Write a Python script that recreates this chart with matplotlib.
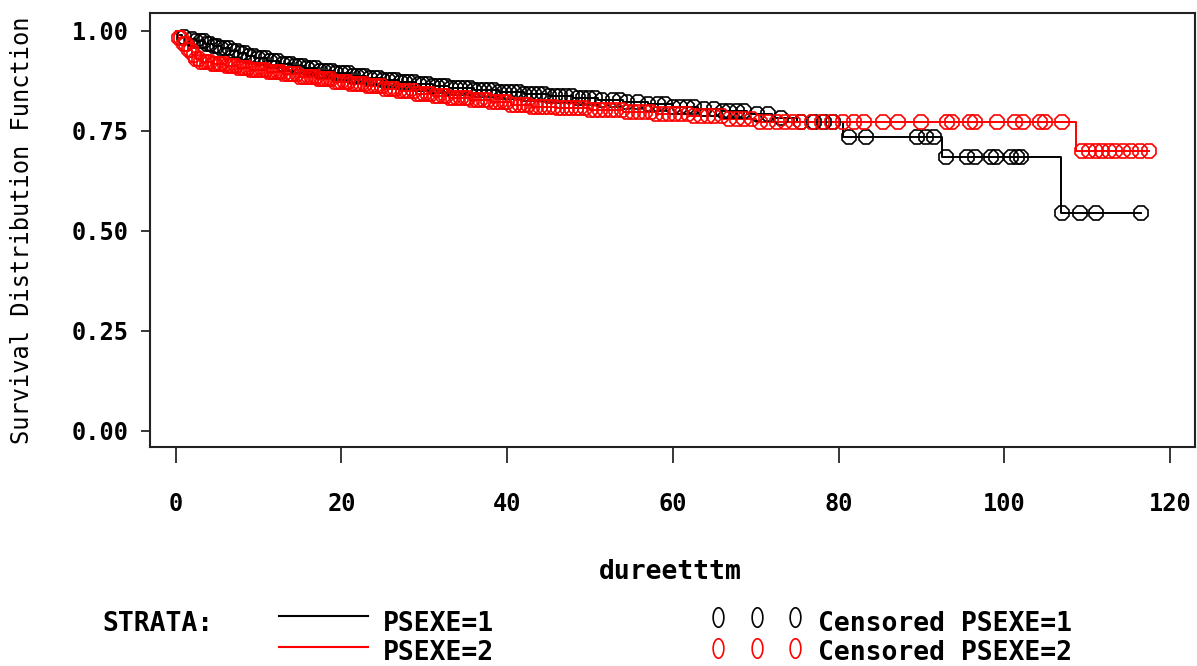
import numpy as np
import matplotlib
matplotlib.use("Agg")
import matplotlib.pyplot as plt
from matplotlib.lines import Line2D
from matplotlib.path import Path

# ---------------- data ----------------
# Kaplan-Meier step curve, stratum PSEXE=1 (event times, survival after event)
times_1 = [0.3, 0.8, 1.5, 2.5, 3.5, 4.5, 5.5, 6.5, 7.5, 8.5, 9.5, 11, 12.5, 14, 15.5, 17, 19,
           21, 23, 25, 27, 29, 31, 33, 36, 39, 42, 45, 48, 51, 54, 57, 60, 63, 66, 69,
           72, 75, 80.5, 92.5, 106.8]
surv_1 = [0.990, 0.984, 0.979, 0.974, 0.968, 0.962, 0.956, 0.950, 0.944, 0.938, 0.932, 0.925,
          0.918, 0.912, 0.906, 0.900, 0.894, 0.888, 0.882, 0.877, 0.872, 0.867, 0.862,
          0.857, 0.852, 0.847, 0.843, 0.838, 0.833, 0.828, 0.822, 0.816, 0.810, 0.805,
          0.800, 0.792, 0.783, 0.772, 0.735, 0.6835, 0.545]
cens_1 = [1.0, 2.0, 2.5, 3.0, 3.4, 3.8, 4.2, 4.6, 5.0, 5.5, 6.0, 6.4, 6.9, 7.4, 7.9, 8.4,
          8.9, 9.4, 9.9, 10.4, 10.9, 11.4, 11.9, 12.4, 12.9, 13.4, 13.9, 14.4, 14.9, 15.4,
          15.9, 16.4, 16.9, 17.4, 17.9, 18.4, 18.9, 19.4, 19.9, 20.4, 20.9, 21.4, 21.9,
          22.4, 22.9, 23.4, 24.0, 24.5, 25.0, 25.6, 26.1, 26.6, 27.2, 27.7, 28.2, 28.8,
          29.3, 29.9, 30.4, 31.0, 31.5, 32.1, 32.6, 33.2, 33.8, 34.3, 34.9, 35.5, 36.0,
          36.6, 37.2, 37.8, 38.4, 39.0, 39.6, 40.2, 40.8, 41.4, 42.0, 42.6, 43.2, 43.9,
          44.5, 45.1, 45.8, 46.4, 47.1, 47.8, 48.5, 49.2, 49.9, 50.6, 51.5, 52.8, 53.6,
          54.5, 55.8, 57.0, 58.2, 59.0, 60.0, 60.8, 61.7, 62.6, 63.8, 65.0, 66.0, 66.8,
          67.7, 68.6, 70.2, 71.5, 73.0, 75.5, 77.0, 78.2, 79.3, 81.3, 83.3, 89.5, 90.6,
          91.5, 93.0, 95.5, 96.5, 98.4, 99.0, 100.8, 101.5, 102.0, 107.0, 109.1, 111.0,
          116.5]

# stratum PSEXE=2
times_2 = [0.3, 1.0, 1.5, 2.0, 2.5, 3.0, 4.5, 6.0, 7.5, 9.0, 11, 13, 15, 17, 19, 21, 23,
           25, 27, 29, 31, 33, 35.5, 38, 40.5, 43, 46, 50, 54, 58, 62, 66, 70, 108.7]
surv_2 = [0.982, 0.966, 0.952, 0.940, 0.930, 0.922, 0.916, 0.911, 0.907, 0.903, 0.897,
          0.891, 0.885, 0.879, 0.873, 0.867, 0.861, 0.855, 0.849, 0.843, 0.838, 0.833,
          0.827, 0.821, 0.815, 0.810, 0.806, 0.802, 0.798, 0.793, 0.787, 0.780, 0.772,
          0.700]
cens_2 = [0.4, 0.7, 1.0, 1.3, 1.6, 1.9, 2.2, 2.5, 2.8, 3.1, 3.4, 3.8, 4.1, 4.5, 4.8, 5.2,
          5.5, 5.9, 6.2, 6.6, 6.9, 7.3, 7.6, 8.0, 8.4, 8.7, 9.1, 9.4, 9.8, 10.2, 10.5, 10.9,
          11.3, 11.6, 12.0, 12.4, 12.7, 13.1, 13.5, 13.9, 14.2, 14.6, 15.0, 15.4, 15.7,
          16.1, 16.5, 16.9, 17.3, 17.6, 18.0, 18.4, 18.8, 19.2, 19.6, 20.0, 20.4, 20.8,
          21.2, 21.6, 22.0, 22.4, 22.8, 23.2, 23.6, 24.0, 24.4, 24.9, 25.3, 25.7, 26.1,
          26.5, 27.0, 27.4, 27.8, 28.2, 28.7, 29.1, 29.5, 30.0, 30.4, 30.8, 31.3, 31.7,
          32.2, 32.6, 33.1, 33.5, 34.0, 34.4, 34.9, 35.3, 35.8, 36.3, 36.7, 37.2, 37.7,
          38.1, 38.6, 39.1, 39.6, 40.0, 40.5, 41.0, 41.5, 42.0, 42.5, 43.0, 43.5, 44.0,
          44.5, 45.0, 45.6, 46.1, 46.6, 47.2, 47.7, 48.3, 48.8, 49.4, 50.0, 50.6, 51.2,
          51.8, 52.5, 53.1, 53.8, 54.5, 55.2, 55.9, 56.6, 57.3, 58.0, 58.8, 59.5, 60.3,
          61.0, 61.8, 62.6, 63.4, 64.2, 65.0, 65.9, 66.8, 67.7, 68.6, 69.5, 70.5, 71.5,
          72.5, 73.5, 74.5, 75.5, 76.8, 78.0, 79.2, 80.5, 81.8, 83.0, 85.4, 87.2, 89.9,
          93.1, 93.7, 95.9, 96.5, 99.1, 101.3, 102.3, 104.3, 104.9, 107.0, 109.4, 110.2,
          111.0, 111.8, 112.6, 113.4, 114.3, 115.3, 116.4, 117.4]

x_ticks = [0, 20, 40, 60, 80, 100, 120]
y_ticks = [0.00, 0.25, 0.50, 0.75, 1.00]
y_tick_labels = ["0.00", "0.25", "0.50", "0.75", "1.00"]
strata_labels = ["PSEXE=1", "PSEXE=2"]
colors = ["#000000", "#ff0000"]

# ---------------- figure ----------------
W, H = 1197, 666
fig = plt.figure(figsize=(W / 100, H / 100), dpi=100)
fig.patch.set_facecolor("white")

def fx(px):
    return px / W

def fy(py):
    return 1 - py / H

ax = fig.add_axes([fx(150), fy(446.7), fx(1195) - fx(150), fy(13.3) - fy(446.7)])
ax.set_xlim(-3.1, 123.0)
ax.set_ylim(-0.04, 1.0435)

mono_b = dict(family="DejaVu Sans Mono", weight="bold")

def km_draw(times, surv, cens, color):
    t = np.concatenate([[0.0], times, [max(cens)]])
    s = np.concatenate([[1.0], surv, [surv[-1]]])
    ax.step(t, s, where="post", color=color, lw=1.4, zorder=2)
    steps_s = np.concatenate([[1.0], surv])
    idx = np.searchsorted(np.asarray(times), np.asarray(cens), side="right")
    cy = steps_s[idx]
    ax.plot(cens, cy, linestyle="none", marker="8", markersize=11,
            markerfacecolor="none", markeredgecolor=color, markeredgewidth=1.2,
            zorder=3)

km_draw(times_1, surv_1, cens_1, colors[0])
km_draw(times_2, surv_2, cens_2, colors[1])

for sp in ax.spines.values():
    sp.set_linewidth(1.5)
    sp.set_color("#222222")

ax.set_xticks(x_ticks)
ax.set_xticklabels([str(v) for v in x_ticks], fontsize=17, **mono_b)
ax.set_yticks(y_ticks)
ax.set_yticklabels(y_tick_labels, fontsize=17, **mono_b)
ax.tick_params(axis="x", direction="out", length=11.5, width=1.1, pad=21)
ax.tick_params(axis="y", direction="out", length=6.5, width=1.1, pad=9)

# axis titles
fig.text(fx(22), fy(230), "Survival Distribution Function", rotation=90,
         ha="center", va="center", fontsize=17, family="DejaVu Sans Mono")
fig.text(fx(670), fy(579), "dureetttm", ha="center", va="baseline",
         fontsize=19, **mono_b)

# legend
fig.text(fx(102), fy(631), "STRATA:", ha="left", va="baseline", fontsize=19, **mono_b)
row_text_y = [631, 660]
row_line_y = [616, 647]
row_mark_y = [617, 648]
for i in range(2):
    fig.add_artist(Line2D([fx(279), fx(368)], [fy(row_line_y[i])] * 2,
                          color=colors[i], lw=1.5, transform=fig.transFigure))
    fig.text(fx(383), fy(row_text_y[i]), strata_labels[i], ha="left",
             va="baseline", fontsize=19, **mono_b)
    fig.text(fx(818), fy(row_text_y[i]), "Censored " + strata_labels[i],
             ha="left", va="baseline", fontsize=19, **mono_b)

theta = np.linspace(0, 2 * np.pi, 40)
ell = Path(np.column_stack([0.55 * np.cos(theta), np.sin(theta)]))
for i in range(2):
    fig.add_artist(Line2D([fx(718), fx(757), fx(795)], [fy(row_mark_y[i])] * 3,
                          linestyle="none", marker=ell, markersize=14,
                          markerfacecolor="none", markeredgecolor=colors[i],
                          markeredgewidth=1.2, transform=fig.transFigure))

fig.savefig("out.png", dpi=100, facecolor="white")
